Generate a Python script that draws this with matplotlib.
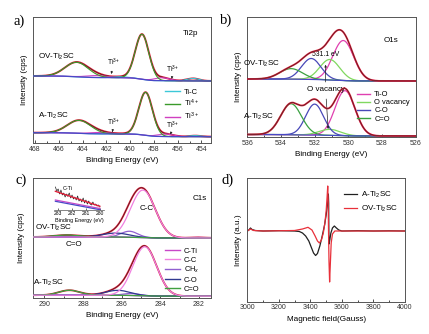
import numpy as np
import matplotlib
matplotlib.use("Agg")
import matplotlib.pyplot as plt

plt.rcParams['font.family'] = ['Liberation Sans', 'DejaVu Sans']
plt.rcParams['mathtext.fontset'] = 'custom'
plt.rcParams['mathtext.rm'] = 'Liberation Sans'
plt.rcParams['mathtext.it'] = 'Liberation Sans:italic'
plt.rcParams['mathtext.bf'] = 'Liberation Sans:bold'

# ---------------- data ----------------
# Ti 2p fit components: centre (eV), height, FWHM, component index (0 Ti-C, 1 Ti4+, 2 Ti3+)
ti2p_names = ['Ti-C', 'Ti$^{4+}$', 'Ti$^{3+}$']
ti2p_ov_center = [454.7, 460.8, 459.0, 464.5, 457.3, 462.8]
ti2p_ov_height = [2.5, 1.0, 45.0, 14.5, 3.0, 2.0]
ti2p_ov_fwhm = [1.2, 1.5, 1.35, 2.3, 1.5, 2.0]
ti2p_a_center = [454.5, 460.6, 458.7, 464.3, 457.0, 462.5]
ti2p_a_height = [1.0, 0.5, 43.0, 13.0, 2.5, 1.5]
ti2p_a_fwhm = [1.2, 1.5, 1.35, 2.3, 1.5, 2.0]
ti2p_comp = [0, 0, 1, 1, 2, 2]
ti2p_ov_bg = (62.0, 5.0)   # level at low BE, Shirley step
ti2p_a_bg = (6.3, 4.0)

# O 1s fit components (0 Ti-O, 1 O vacancy, 2 C-O, 3 C=O)
o1s_names = ['Ti-O', 'O vacancy', 'C-O', 'C=O']
o1s_ov_center = [530.3, 531.1, 532.2, 533.4]
o1s_ov_height = [40.0, 20.5, 21.0, 10.5]
o1s_ov_fwhm = [1.45, 1.4, 1.35, 1.6]
o1s_a_center = [530.2, 531.1, 532.0, 533.4]
o1s_a_height = [45.0, 6.0, 31.0, 31.0]
o1s_a_fwhm = [1.4, 1.5, 1.25, 1.45]
o1s_ov_bg = (56.0, 2.0)
o1s_a_bg = (1.0, 1.5)

# C 1s fit components (0 C-Ti, 1 C-C, 2 CHx, 3 C-O, 4 C=O)
c1s_names = ['C-Ti', 'C-C', 'CH$_x$', 'C-O', 'C=O']
c1s_ov_center = [282.0, 284.9, 285.6, 286.3, 288.8]
c1s_ov_height = [0.6, 47.5, 6.0, 4.0, 2.0]
c1s_ov_fwhm = [1.0, 1.5, 1.0, 1.6, 1.6]
c1s_a_center = [282.0, 284.8, 285.5, 286.2, 288.7]
c1s_a_height = [0.2, 49.0, 2.0, 5.0, 5.0]
c1s_a_fwhm = [1.0, 1.45, 1.0, 1.5, 1.3]
c1s_ov_bg = (60.0, 1.0)
c1s_a_bg = (1.8, 1.0)

# C-Ti region of OV-Ti2SC (inset)
inset_be = [283.2, 283.1, 283.0, 282.9, 282.8, 282.7, 282.6, 282.5, 282.4, 282.3,
            282.2, 282.1, 282.0, 281.9, 281.8, 281.7, 281.6, 281.5, 281.4, 281.3,
            281.2, 281.1, 281.0, 280.9, 280.8, 280.7, 280.6, 280.5, 280.4, 280.3,
            280.2, 280.1, 280.0]
inset_counts = [23, 19, 21, 16, 20, 15, 17, 13, 16, 14,
                17, 12, 15, 11, 13, 10, 14, 9, 11, 8,
                12, 7, 10, 6, 9, 6, 5, 8, 5, 6, 4, 5, 3]
inset_fit = [18.7, 3.7]           # fitted envelope at the two ends
inset_bg_upper = [10.0, 1.5]
inset_bg_lower = [8.7, 0.3]

# EPR spectra
epr_a_field = [3000, 3010, 3020, 3030, 3050, 3100, 3200, 3300, 3330, 3350, 3370,
               3390, 3405, 3420, 3433, 3445, 3460, 3475, 3490, 3500, 3508, 3514,
               3516, 3517, 3518, 3522, 3530, 3540, 3552, 3565, 3580, 3600, 3700,
               3800, 3900, 4000]
epr_a_int = [0, 1, 3, 1.5, 0.5, 0, 0.3, 0, -0.5, -2, -5,
             -10, -16, -22, -24.5, -22.5, -15, -5, 6, 16, 26, 37,
             28, 0, -13, -10, -2, 3, 5, 3, 1, 0, 0.3,
             0, 0.2, 0]
epr_ov_field = [3000, 3020, 3040, 3100, 3300, 3350, 3385, 3410, 3430, 3445, 3457,
                3470, 3482, 3492, 3500, 3506, 3510, 3513, 3515, 3518, 3522, 3526,
                3532, 3540, 3555, 3600, 4000]
epr_ov_int = [0, 2, 0.5, 0, 0.5, 2, 3.7, 1, -5, -10, -12,
              -9, -2, 8, 20, 34, 45, 30, 0, -30, -51, -35,
              -12, -3, 0, 0, 0]

# ---------------- helpers ----------------
W, H = 429, 334
fig = plt.figure(figsize=(W / 100, H / 100), dpi=100)
TICK_FS = 5.0
LAB_FS = 5.9
TXT_FS = 5.8
LEG_FS = 5.4
SPINE = '#555555'


def px_axes(l, t, r, b):
    return fig.add_axes([l / W, 1 - b / H, (r - l) / W, (b - t) / H])


def gauss(x, c, h, w):
    return h * np.exp(-4 * np.log(2) * ((x - c) / w) ** 2)


def shirley(x, total, level, step):
    cum = np.concatenate([[0], np.cumsum((total[1:] + total[:-1]) / 2 * np.diff(x))])
    return level + step * cum / cum[-1]


def spectrum(x, centers, heights, fwhms, bg):
    parts = [gauss(x, c, h, w) for c, h, w in zip(centers, heights, fwhms)]
    total = np.sum(parts, axis=0)
    back = shirley(x, total, *bg)
    return parts, back, total + back


def style(ax, xlim, ylim, major, minor):
    ax.set_xlim(*xlim)
    ax.set_ylim(*ylim)
    ax.set_xticks(major)
    ax.set_xticks(minor, minor=True)
    ax.set_yticks([])
    ax.tick_params(axis='x', which='major', direction='in', length=2.2, width=0.6,
                   labelsize=TICK_FS, pad=2, colors='#333333')
    ax.tick_params(axis='x', which='minor', direction='in', length=1.2, width=0.5)
    for s in ax.spines.values():
        s.set_color(SPINE)
        s.set_linewidth(0.7)


def legend(ax, handles, names, x, y, spacing, hlen=2.0, fs=LEG_FS):
    ax.legend(handles, names, loc='upper left', bbox_to_anchor=(x, y), frameon=False,
              fontsize=fs, handlelength=hlen, handletextpad=0.5,
              labelspacing=spacing, borderaxespad=0, borderpad=0)


def letter(txt, x, y):
    fig.text(x / W, 1 - y / H, txt, family='Liberation Serif', fontsize=10.5,
             ha='left', va='center')


# ---------------- a) Ti 2p ----------------
ax = px_axes(33.3, 17.3, 211, 143)
xa = np.linspace(453.0, 468.5, 800)
ti2p_colors = ['#3cc8d8', '#3a9a2a', '#d040c0']
for centers, heights, fwhms, bg in [
        (ti2p_ov_center, ti2p_ov_height, ti2p_ov_fwhm, ti2p_ov_bg),
        (ti2p_a_center, ti2p_a_height, ti2p_a_fwhm, ti2p_a_bg)]:
    parts, back, env = spectrum(xa, centers, heights, fwhms, bg)
    ax.plot(xa, env, color='#e0203a', lw=1.4, zorder=2)
    ax.plot(xa, env, color='#202020', lw=0.35, zorder=3)
    for k in range(3):
        comp = np.sum([p for p, ci in zip(parts, ti2p_comp) if ci == k], axis=0)
        ax.plot(xa, comp + back, color=ti2p_colors[k], lw=0.8, zorder=4 if k == 1 else 3)
    ax.plot(xa, back, color='#4848c8', lw=0.9, zorder=5)
style(ax, (468.15, 453.2), (0, 125.7), np.arange(468, 453, -2), np.arange(467, 453, -2))
ax.set_xlabel('Binding Energy (eV)', fontsize=LAB_FS, labelpad=3)
ax.set_ylabel('Intensity (cps)', fontsize=LAB_FS, labelpad=4)
ax.text(467.75, 143 - 56.7, 'OV-Ti$_2$SC', fontsize=TXT_FS, ha='left', va='center')
ax.text(467.75, 143 - 116, 'A-Ti$_2$SC', fontsize=TXT_FS, ha='left', va='center')
ax.text(455.6, 143 - 33.3, 'Ti2p', fontsize=TXT_FS, ha='left', va='center')
for tx, ty, hx, hy in [(461.35, 143 - 62.7, 461.6, 143 - 74),
                       (456.4, 143 - 69.3, 456.5, 143 - 79),
                       (461.35, 143 - 122.7, 461.5, 143 - 132),
                       (456.4, 143 - 125, 456.6, 143 - 134.5)]:
    ax.annotate('Ti$^{3+}$', xy=(hx, hy), xytext=(tx, ty), fontsize=4.8,
                ha='center', va='center',
                arrowprops=dict(arrowstyle='-|>', lw=0.5, color='#222222',
                                mutation_scale=3, shrinkA=2.5, shrinkB=0))
legend(ax, [plt.Line2D([], [], color=c, lw=1.0) for c in ti2p_colors], ti2p_names,
       0.741, 0.435, 0.25)
letter('a)', 14, 21)

# ---------------- b) O 1s ----------------
ax = px_axes(247.3, 17.3, 415.7, 137)
xb = np.linspace(525.5, 536.5, 800)
o1s_colors = ['#e040b0', '#80d860', '#4848b8', '#3aa040']
for centers, heights, fwhms, bg in [
        (o1s_ov_center, o1s_ov_height, o1s_ov_fwhm, o1s_ov_bg),
        (o1s_a_center, o1s_a_height, o1s_a_fwhm, o1s_a_bg)]:
    parts, back, env = spectrum(xb, centers, heights, fwhms, bg)
    for k in range(4):
        ax.plot(xb, parts[k] + back, color=o1s_colors[k], lw=0.9, zorder=3)
    ax.plot(xb, back, color='#4848c8', lw=0.8, zorder=3)
    ax.plot(xb, env, color='#e0203a', lw=1.3, zorder=4)
    ax.plot(xb, env, color='#202020', lw=0.35, zorder=5)
style(ax, (536, 526), (0, 119.7), np.arange(536, 525, -2), np.arange(535, 526, -2))
ax.set_xlabel('Binding Energy (eV)', fontsize=LAB_FS, labelpad=3)
ax.set_ylabel('Intensity (cps)', fontsize=LAB_FS, labelpad=4)
ax.text(536.25, 137 - 64, 'OV-Ti$_2$SC', fontsize=TXT_FS, ha='left', va='center',
        clip_on=False)
ax.text(536.25, 137 - 117.3, 'A-Ti$_2$SC', fontsize=TXT_FS, ha='left', va='center',
        clip_on=False)
ax.text(527.9, 137 - 40.7, 'O1s', fontsize=TXT_FS, ha='left', va='center')
ax.annotate('531.1 eV', xy=(531.35, 137 - 82), xytext=(531.35, 137 - 55),
            fontsize=4.9, ha='center', va='center',
            arrowprops=dict(arrowstyle='<|-', lw=0.5, color='#222222',
                            mutation_scale=3, shrinkA=2.5, shrinkB=0))
ax.annotate('O vacancy', xy=(531.2, 137 - 129), xytext=(531.35, 137 - 89.3),
            fontsize=TXT_FS, ha='center', va='center',
            arrowprops=dict(arrowstyle='-|>', lw=0.5, color='#222222',
                            mutation_scale=3, shrinkA=2.5, shrinkB=0))
legend(ax, [plt.Line2D([], [], color=c, lw=1.0) for c in o1s_colors], o1s_names,
       0.651, 0.385, 0.12, hlen=1.8)
letter('b)', 220, 20)

# ---------------- c) C 1s ----------------
ax = px_axes(33.3, 178, 211, 298)
xc = np.linspace(281.0, 291.0, 800)
c1s_colors = ['#c848c8', '#f080e0', '#9060d0', '#303890', '#40a040']
for centers, heights, fwhms, bg in [
        (c1s_ov_center, c1s_ov_height, c1s_ov_fwhm, c1s_ov_bg),
        (c1s_a_center, c1s_a_height, c1s_a_fwhm, c1s_a_bg)]:
    parts, back, env = spectrum(xc, centers, heights, fwhms, bg)
    ax.plot(xc, env, color='#e0203a', lw=1.3, zorder=2)
    ax.plot(xc, env, color='#202020', lw=0.35, zorder=3)
    for k in [0, 2, 3, 4, 1]:
        ax.plot(xc, parts[k] + back, color=c1s_colors[k], lw=0.9, zorder=4)
    ax.plot(xc, back, color='#4848c8', lw=0.8, zorder=3)
style(ax, (290.57, 281.38), (0, 120), np.arange(290, 281, -2), np.arange(289, 281, -2))
ax.set_xlabel('Binding Energy (eV)', fontsize=LAB_FS, labelpad=3)
ax.set_ylabel('Intensity (cps)', fontsize=LAB_FS, labelpad=6)
ax.text(290.48, 298 - 227.7, 'OV-Ti$_2$SC', fontsize=TXT_FS, ha='left', va='center')
ax.text(290.58, 298 - 283.3, 'A-Ti$_2$SC', fontsize=TXT_FS, ha='left', va='center')
ax.text(288.9, 298 - 244, 'C=O', fontsize=TXT_FS, ha='left', va='center')
ax.text(282.35, 298 - 198.3, 'C1s', fontsize=TXT_FS, ha='left', va='center')
ax.text(285.05, 298 - 208.3, 'C-C', fontsize=TXT_FS, ha='left', va='center', zorder=6)
legend(ax, [plt.Line2D([], [], color=c, lw=1.0) for c in c1s_colors], c1s_names,
       0.741, 0.42, 0.2)
letter('c)', 16, 180)

# inset: C-Ti region
ins = px_axes(54, 185.7, 104, 210)
ins.plot(inset_be, inset_counts, color='#202020', lw=0.5, zorder=3)
ins.plot([inset_be[0], inset_be[-1]], inset_fit, color='#e0203a', lw=1.0, zorder=4)
ins.plot([inset_be[0], inset_be[-1]], inset_bg_upper, color='#c848c8', lw=0.9, zorder=2)
ins.plot([inset_be[0], inset_be[-1]], inset_bg_lower, color='#4848c8', lw=0.9, zorder=2)
ins.set_xlim(283.3, 279.7)
ins.set_ylim(0, 24.3)
ins.set_xticks([283, 282, 281, 280])
ins.set_yticks([])
ins.tick_params(axis='x', direction='in', length=1.2, width=0.4, labelsize=3.6, pad=1)
for s in ['left', 'top', 'right']:
    ins.spines[s].set_visible(False)
ins.spines['bottom'].set_linewidth(0.5)
ins.spines['bottom'].set_color(SPINE)
ins.set_xlabel('Binding Energy (eV)', fontsize=3.9, labelpad=1)
ins.patch.set_alpha(0)
ins.annotate('C-Ti', xy=(282.3, 210 - 196.7), xytext=(282.3, 210 - 188.3),
             fontsize=3.9, ha='center', va='center',
             arrowprops=dict(arrowstyle='-', lw=0.4, color='#222222', shrinkA=1.5, shrinkB=0))

# ---------------- d) EPR ----------------
ax = px_axes(247.3, 177.7, 405, 301.7)
ax.plot(epr_a_field, epr_a_int, color='#202020', lw=0.9, label='A-Ti$_2$SC')
ax.plot(epr_ov_field, epr_ov_int, color='#e8303a', lw=0.9, label='OV-Ti$_2$SC')
style(ax, (3000, 4000), (-70.7, 53.3), np.arange(3000, 4001, 200), np.arange(3100, 4000, 200))
ax.set_xlabel('Magnetic field(Gauss)', fontsize=LAB_FS, labelpad=3)
ax.set_ylabel('Intensity (a.u.)', fontsize=LAB_FS, labelpad=4)
ax.legend(loc='upper left', bbox_to_anchor=(0.615, 0.9), frameon=False,
          fontsize=TXT_FS, handlelength=1.6, handletextpad=0.45,
          labelspacing=0.45, borderaxespad=0, borderpad=0)
letter('d)', 222, 180)

fig.savefig('out.png', dpi=100)
